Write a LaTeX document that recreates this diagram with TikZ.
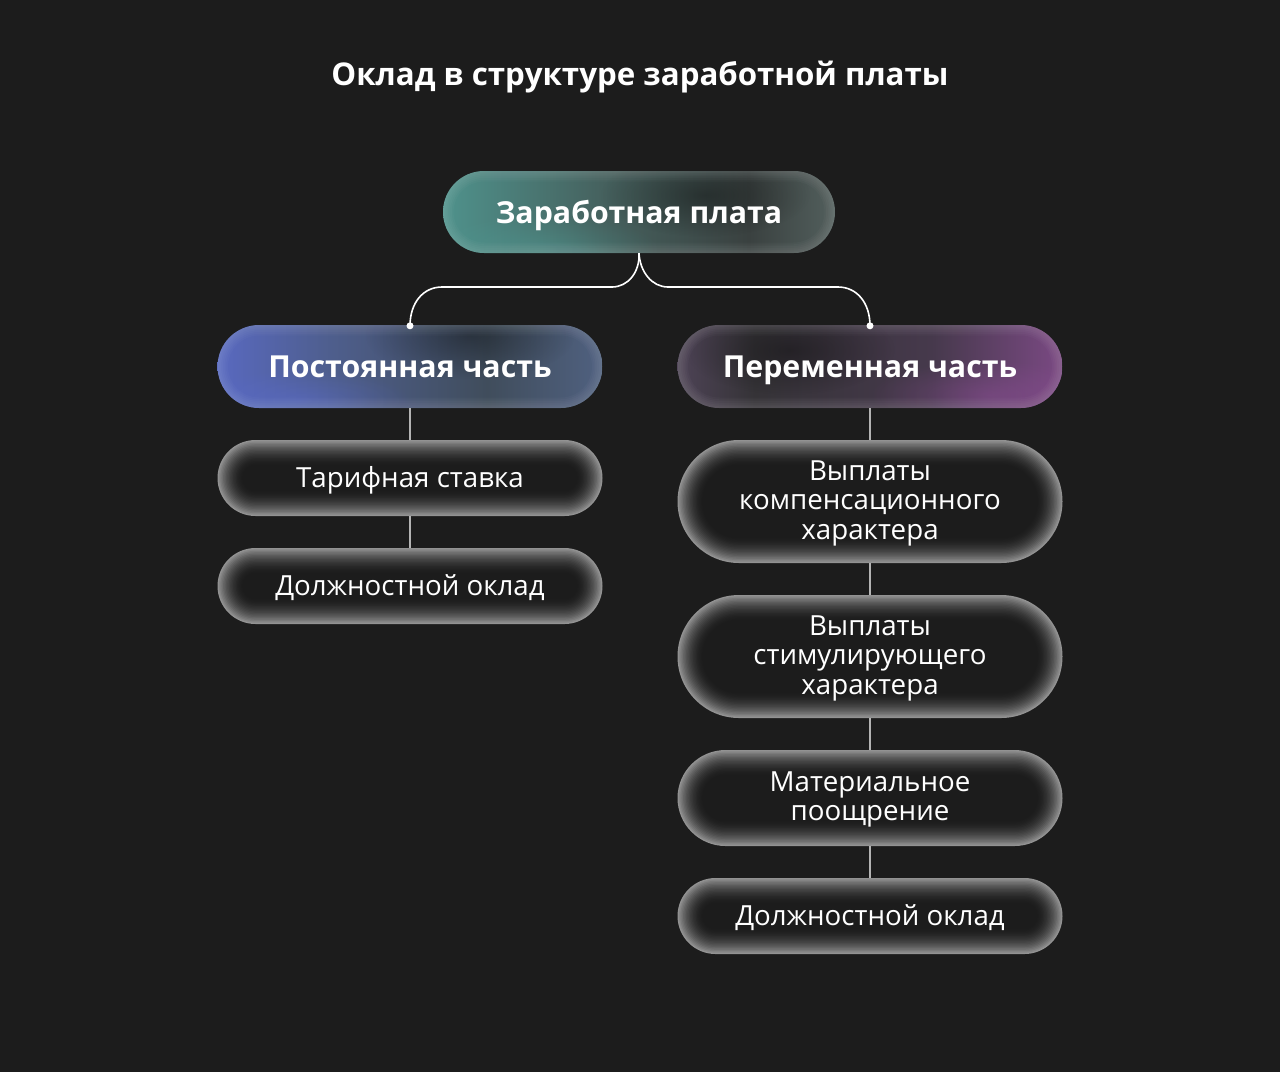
\documentclass[tikz,border=0pt]{standalone}
\usepackage{fontspec}
\setmainfont{Open Sans}
\usetikzlibrary{fadings}
\tikzfading[name=blob, inner color=transparent!0, outer color=transparent!100]
\definecolor{bg}{HTML}{1C1C1C}
\definecolor{glowgray}{HTML}{929292}
\definecolor{linegray}{HTML}{B4B4B4}
% top node colours
\definecolor{tA}{HTML}{58A8A0}
\definecolor{tB}{HTML}{519E97}
\definecolor{tC}{HTML}{46625F}
\definecolor{tD}{HTML}{3A4140}
\definecolor{tE}{HTML}{687A77}
\definecolor{tF}{HTML}{8CA09C}
% left node colours
\definecolor{bA}{HTML}{6A7AEE}
\definecolor{bB}{HTML}{5E6ED8}
\definecolor{bC}{HTML}{4E5E8C}
\definecolor{bD}{HTML}{404D5C}
\definecolor{bE}{HTML}{5A6E98}
\definecolor{bF}{HTML}{7C94BC}
% right node colours
\definecolor{pA}{HTML}{86729A}
\definecolor{pB}{HTML}{645272}
\definecolor{pC}{HTML}{353337}
\definecolor{pD}{HTML}{46394C}
\definecolor{pE}{HTML}{90509A}
\definecolor{pF}{HTML}{B05AB8}
\pgfdeclarehorizontalshading{tshade}{100bp}{color(0bp)=(tA); color(20bp)=(tB); color(45bp)=(tC); color(64bp)=(tD); color(85bp)=(tE); color(100bp)=(tF)}
\pgfdeclarehorizontalshading{bshade}{100bp}{color(0bp)=(bA); color(18bp)=(bB); color(40bp)=(bC); color(60bp)=(bD); color(85bp)=(bE); color(100bp)=(bF)}
\pgfdeclarehorizontalshading{pshade}{100bp}{color(0bp)=(pA); color(16bp)=(pB); color(35bp)=(pC); color(58bp)=(pD); color(82bp)=(pE); color(100bp)=(pF)}
\newcommand{\pillglow}[4]{%
  \foreach \p [count=\i from 0] in {100,90,80,71,62,54,47,40,34,28,23,18,14,10,7,4.5,2.5,1,0}{%
    \pgfmathsetmacro{\dd}{\i*1.4}%
    \pgfmathsetmacro{\rr}{#4/2-\dd-0.01}%
    \fill[glowgray!\p!bg, rounded corners=\rr pt] (#1-#3/2+\dd,#2-#4/2+\dd) rectangle (#1+#3/2-\dd,#2+#4/2-\dd);
  }%
}
\newcommand{\pillrim}[4]{%
  \foreach \k in {1,...,6}{
    \draw[white, opacity=.025, line width=\k*3.5pt, rounded corners=#4/2*1pt-0.01pt] (#1-#3/2,#2-#4/2) rectangle (#1+#3/2,#2+#4/2);
  }}
\begin{document}
\begin{tikzpicture}[x=1pt,y=-1pt,
  title/.style={font=\fontsize{31.3}{36}\selectfont\bfseries, text=white, inner sep=0pt},
  pill/.style={inner sep=0pt, minimum width=385pt},
  coltext/.style={font=\fontsize{30.3}{34}\selectfont\bfseries, text=white, inner sep=0pt, align=center, text height=22pt, text depth=0pt},
  graytext/.style={font=\fontsize{27.7}{29.5}\selectfont, text=white, inner sep=0pt, align=center},
  bracket/.style={draw=white, line width=1.6pt},
  stem/.style={draw=linegray, line width=1.5pt},
  dot/.style={fill=white, circle, inner sep=0pt, minimum size=7pt},
  darkblob/.style={fill=black, path fading=blob}
]
\useasboundingbox (0,0) rectangle (1280,1072);
\fill[bg] (0,0) rectangle (1280,1072);

\node[title] (ttl) at (640,77) {Оклад в структуре заработной платы};

% coloured pill: Заработная плата
\begin{scope}
  \clip[rounded corners=40.99pt] (443,171) rectangle (835,253);
  \shade[shading=tshade] (443,171) rectangle (835,253);
  \fill[darkblob, opacity=.35] (705,195) ellipse (105 and 42);
  \fill[tB, path fading=blob, opacity=.45] (540,250) ellipse (120 and 35);
  \pillrim{639}{212}{392}{82}
\end{scope}
\node[pill, minimum width=392pt, minimum height=82pt] (zp) at (639,212) {};
\node[coltext] (zpL) at (zp.center) {Заработная плата};

% coloured pill: Постоянная часть
\begin{scope}
  \clip[rounded corners=41.49pt] (217.5,325) rectangle (602.5,408);
  \shade[shading=bshade] (217.5,325) rectangle (602.5,408);
  \fill[darkblob, opacity=.35] (470,335) ellipse (105 and 45);
  \fill[bB, path fading=blob, opacity=.4] (300,400) ellipse (110 and 30);
  \pillrim{410}{366.5}{385}{83}
\end{scope}
\node[pill, minimum height=83pt] (post) at (410,366.5) {};
\node[coltext] (postL) at (post.center) {Постоянная часть};

% coloured pill: Переменная часть
\begin{scope}
  \clip[rounded corners=41.49pt] (677.5,325) rectangle (1062.5,408);
  \shade[shading=pshade] (677.5,325) rectangle (1062.5,408);
  \fill[darkblob, opacity=.35] (790,350) ellipse (105 and 45);
  \fill[pE, path fading=blob, opacity=.45] (990,395) ellipse (120 and 35);
  \pillrim{870}{366.5}{385}{83}
\end{scope}
\node[pill, minimum height=83pt] (perem) at (870,366.5) {};
\node[coltext] (peremL) at (perem.center) {Переменная часть};

% grey pills
\pillglow{410}{478}{385}{76}
\node[pill, minimum height=76pt] (tar) at (410,478) {};
\node[graytext] (tarL) at ([yshift=-2pt]tar.center) {Тарифная ставка};
\pillglow{410}{586}{385}{76}
\node[pill, minimum height=76pt] (dol1) at (410,586) {};
\node[graytext] (dol1L) at ([yshift=-2pt]dol1.center) {Должностной оклад};
\pillglow{870}{501.5}{385}{123}
\node[pill, minimum height=123pt] (komp) at (870,501.5) {};
\node[graytext] (kompL) at ([yshift=-1.5pt]komp.center) {Выплаты\\компенсационного\\характера};
\pillglow{870}{656.5}{385}{123}
\node[pill, minimum height=123pt] (stim) at (870,656.5) {};
\node[graytext] (stimL) at ([yshift=-1.5pt]stim.center) {Выплаты\\стимулирующего\\характера};
\pillglow{870}{798}{385}{96}
\node[pill, minimum height=96pt] (mat) at (870,798) {};
\node[graytext] (matL) at ([yshift=-1.5pt]mat.center) {Материальное\\поощрение};
\pillglow{870}{916}{385}{76}
\node[pill, minimum height=76pt] (dol2) at (870,916) {};
\node[graytext] (dol2L) at ([yshift=-2pt]dol2.center) {Должностной оклад};

% bracket connector
\coordinate (lj) at ([yshift=-1pt]post.north);
\coordinate (rj) at ([yshift=-1pt]perem.north);
\draw[bracket] (zp.south) .. controls (640,272) and (628,287) .. (612,287) -- (442,287) .. controls (423,287) and (410,303) .. (lj);
\draw[bracket] (zp.south) .. controls (640,272) and (652,287) .. (668,287) -- (838,287) .. controls (857,287) and (870,303) .. (rj);
\node[dot] (ld) at (lj) {};
\node[dot] (rd) at (rj) {};

% stems
\draw[stem] (post.south) -- (tar.north);
\draw[stem] (tar.south) -- (dol1.north);
\draw[stem] (perem.south) -- (komp.north);
\draw[stem] (komp.south) -- (stim.north);
\draw[stem] (stim.south) -- (mat.north);
\draw[stem] (mat.south) -- (dol2.north);
\end{tikzpicture}
\end{document}
